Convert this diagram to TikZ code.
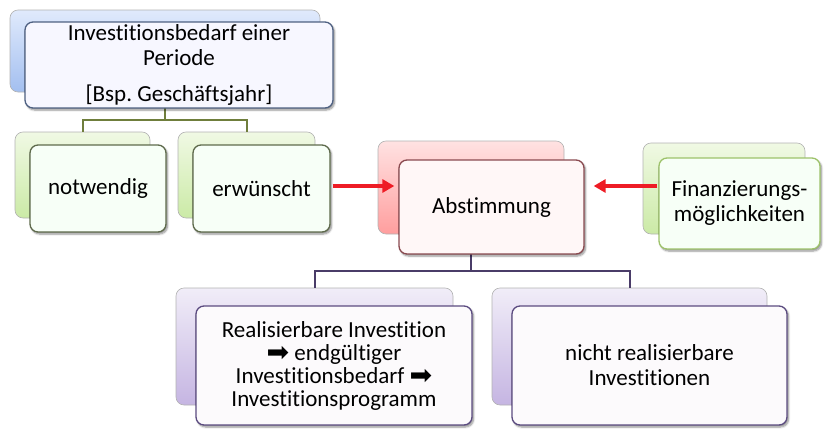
\documentclass[tikz,border=0pt]{standalone}
\usepackage{fontspec}
\setmainfont{Carlito}[Ligatures={NoCommon}]
\newfontfamily\symfont{DejaVu Sans}
\usetikzlibrary{shadows.blur,arrows.meta,calc}
\definecolor{bluetop}{HTML}{E0EAFC}
\definecolor{bluebot}{HTML}{A3BFF0}
\definecolor{greentop}{HTML}{F0F9E4}
\definecolor{greenbot}{HTML}{CBEAA6}
\definecolor{pinktop}{HTML}{FFE2E2}
\definecolor{pinkbot}{HTML}{FF9E9E}
\definecolor{purptop}{HTML}{F1EDF8}
\definecolor{purpbot}{HTML}{C5B5E2}
\definecolor{bluebd}{HTML}{4F6182}
\definecolor{olivebd}{HTML}{5E6A4C}
\definecolor{redbd}{HTML}{8A4A50}
\definecolor{lgreenbd}{HTML}{9DC26A}
\definecolor{purpbd}{HTML}{5B4B80}
\definecolor{oliveln}{HTML}{6F7E3C}
\definecolor{purpln}{HTML}{4A3C68}
\definecolor{arrred}{HTML}{EE1C25}
\tikzset{
  backbox/.style 2 args={rounded corners=8pt, draw=black!30, line width=0.6pt,
    top color=#1, bottom color=#2, inner sep=0pt},
  frontbox/.style 2 args={rounded corners=8pt, draw=#1, fill=#2, line width=1.3pt,
    blur shadow={shadow xshift=1.5pt, shadow yshift=-2pt, shadow blur steps=6, shadow opacity=45},
    inner sep=0pt, align=center, font=\fontsize{23}{25}\selectfont\frenchspacing},
  treeline/.style={line width=2pt, draw=#1},
  redarrow/.style={line width=4pt, draw=arrred, -{Triangle[length=12pt,width=13pt]}}
}
\newcommand{\bigarr}{\raisebox{-1pt}[0pt][0pt]{\symfont\fontsize{27}{20}\selectfont ➡}}
\begin{document}
\begin{tikzpicture}[x=1pt,y=-1pt]
\useasboundingbox (0,0) rectangle (831,434);
% back boxes
\node[backbox={bluetop}{bluebot}, minimum width=310pt, minimum height=82pt] (topback) at (165,51) {};
\node[backbox={greentop}{greenbot}, minimum width=135pt, minimum height=86pt] (notback) at (82.5,175) {};
\node[backbox={greentop}{greenbot}, minimum width=137pt, minimum height=86pt] (erwback) at (246.5,175) {};
\node[backbox={pinktop}{pinkbot}, minimum width=186pt, minimum height=93pt] (abstback) at (471,187.5) {};
\node[backbox={greentop}{greenbot}, minimum width=162pt, minimum height=91pt] (finback) at (724,188.5) {};
\node[backbox={purptop}{purpbot}, minimum width=277pt, minimum height=117pt] (realback) at (314.5,346.5) {};
\node[backbox={purptop}{purpbot}, minimum width=275pt, minimum height=117pt] (nichtback) at (629.5,346.5) {};
% connectors
\draw[treeline=oliveln] (topback.south) -- ++(0,28) -| (notback.north);
\draw[treeline=oliveln] (topback.south) -- ++(0,28) -| (erwback.north);
\draw[treeline=purpln] (abstback.south) -- ++(0,37) -| (realback.north);
\draw[treeline=purpln] (abstback.south) -- ++(0,37) -| (nichtback.north);
% front boxes
\node[frontbox={bluebd}{blue!3!white}, minimum width=308pt, minimum height=86pt] (topfront) at (179,65)
  {Investitionsbedarf einer\\Periode\\[11pt][Bsp. Geschäftsjahr]};
\node[frontbox={olivebd}{green!3!white}, minimum width=136pt, minimum height=87pt] (notfront) at (98,188.5) {notwendig};
\node[frontbox={olivebd}{green!3!white}, minimum width=137pt, minimum height=87pt] (erwfront) at (261.5,188.5) {erwünscht};
\node[frontbox={redbd}{red!3!white}, minimum width=185pt, minimum height=94pt] (abstfront) at (491.5,207) {Abstimmung};
\node[frontbox={lgreenbd}{green!3!white}, minimum width=161pt, minimum height=91pt] (finfront) at (739.5,203.5) {Finanzierungs-\\möglichkeiten};
\node[frontbox={purpbd}{violet!2!white}, minimum width=276pt, minimum height=119pt] (realfront) at (334,365.5)
  {Realisierbare Investition\\[-2pt]\bigarr{} endgültiger\\[-2pt]Investitionsbedarf \bigarr\\[-2pt]Investitionsprogramm};
\node[frontbox={purpbd}{violet!2!white}, minimum width=275pt, minimum height=119pt] (nichtfront) at (649.5,365.5) {nicht realisierbare\\Investitionen};
% red arrows
\draw[redarrow, shorten <=2pt, shorten >=4pt] ([yshift=2.5pt]erwfront.east) -- ([yshift=2.5pt]erwfront.east -| abstfront.west);
\draw[redarrow, shorten <=1pt, shorten >=9pt] ([yshift=2.5pt]erwfront.east -| finfront.west) -- ([yshift=2.5pt]erwfront.east -| abstfront.east);
\end{tikzpicture}
\end{document}
